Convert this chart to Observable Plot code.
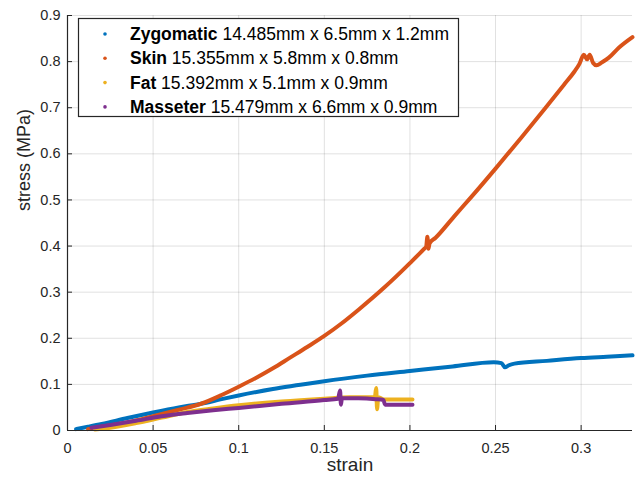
<!DOCTYPE html>
<html><head><meta charset="utf-8">
<script src="https://cdn.jsdelivr.net/npm/d3@7"></script>
<script src="https://cdn.jsdelivr.net/npm/@observablehq/plot@0.6"></script>
<style>body{margin:0;background:#fff} #chart{width:636px;height:483px}</style>
</head><body><div id="chart"></div>
<script>
const seriesNames = ["Zygomatic", "Skin", "Fat", "Masseter"];
const seriesDims = ["14.485mm x 6.5mm x 1.2mm", "15.355mm x 5.8mm x 0.8mm", "15.392mm x 5.1mm x 0.9mm", "15.479mm x 6.6mm x 0.9mm"];
const seriesColors = ["#0072BD", "#D95319", "#EDB120", "#7E2F8E"];

const zygStrain = [0.005, 0.012, 0.02, 0.035, 0.05, 0.065, 0.078, 0.09, 0.1, 0.12, 0.136, 0.15, 0.175, 0.2, 0.225, 0.249, 0.2535, 0.2555, 0.2575, 0.261, 0.28, 0.3, 0.315, 0.33];
const zygStress = [0.003, 0.008, 0.014, 0.027, 0.039, 0.05, 0.058, 0.068, 0.076, 0.09, 0.099, 0.107, 0.119, 0.129, 0.139, 0.148, 0.146, 0.137, 0.141, 0.145, 0.151, 0.157, 0.16, 0.163];

const skinStrain = [0.012, 0.02, 0.03, 0.04, 0.05, 0.065, 0.078, 0.09, 0.1, 0.11, 0.12, 0.13, 0.14, 0.15, 0.16, 0.17, 0.185, 0.2, 0.208, 0.2095, 0.2102, 0.2108, 0.2115, 0.215, 0.226, 0.2355, 0.25, 0.265, 0.279, 0.29, 0.296, 0.299, 0.3015, 0.3035, 0.305, 0.307, 0.309, 0.312, 0.316, 0.322, 0.33];
const skinStress = [0.003, 0.008, 0.014, 0.022, 0.031, 0.045, 0.058, 0.077, 0.095, 0.114, 0.135, 0.158, 0.181, 0.205, 0.232, 0.262, 0.31, 0.363, 0.393, 0.399, 0.42, 0.394, 0.406, 0.418, 0.465, 0.505, 0.568, 0.635, 0.699, 0.75, 0.778, 0.795, 0.815, 0.805, 0.815, 0.797, 0.792, 0.798, 0.808, 0.83, 0.853];

const fatStrain = [0.016, 0.025, 0.04, 0.055, 0.07, 0.085, 0.1, 0.125, 0.15, 0.165, 0.1795, 0.1803, 0.1808, 0.1815, 0.1835, 0.185, 0.19, 0.2015];
const fatStress = [0.002, 0.006, 0.016, 0.028, 0.04, 0.048, 0.055, 0.063, 0.069, 0.072, 0.072, 0.092, 0.046, 0.072, 0.069, 0.067, 0.067, 0.067];

const masStrain = [0.014, 0.025, 0.04, 0.055, 0.07, 0.085, 0.1, 0.125, 0.15, 0.158, 0.1592, 0.1597, 0.1603, 0.17, 0.18, 0.1845, 0.1855, 0.19, 0.2015];
const masStress = [0.006, 0.012, 0.021, 0.031, 0.038, 0.044, 0.049, 0.058, 0.066, 0.069, 0.087, 0.056, 0.07, 0.07, 0.068, 0.066, 0.056, 0.056, 0.056];

const xTicks = [0, 0.05, 0.1, 0.15, 0.2, 0.25, 0.3];
const yTicks = [0, 0.1, 0.2, 0.3, 0.4, 0.5, 0.6, 0.7, 0.8, 0.9];
const xLabel = "strain";
const yLabel = "stress (MPa)";

const seriesData = [[zygStrain, zygStress], [skinStrain, skinStress], [fatStrain, fatStress], [masStrain, masStress]];
const rows = [];
seriesData.forEach(([xs, ys], i) => xs.forEach((x, j) => rows.push({name: seriesNames[i], strain: x, stress: ys[j]})));

const W = 636, H = 483, mL = 67, mR = 4, mT = 15, mB = 53;
const font = "'Liberation Sans', Arial, Helvetica, sans-serif";
const ink = "#262626";

const chart = Plot.plot({
  width: W, height: H,
  marginLeft: mL, marginRight: mR, marginTop: mT, marginBottom: mB,
  style: {fontFamily: font, fontSize: "14px", color: ink, background: "#fff"},
  x: {domain: [0, 0.33]},
  y: {domain: [0, 0.9]},
  color: {domain: seriesNames, range: seriesColors},
  marks: [
    Plot.ruleX(xTicks.filter(d => d > 0), {stroke: "#000", strokeOpacity: 0.12}),
    Plot.ruleY(yTicks.filter(d => d > 0), {stroke: "#000", strokeOpacity: 0.12}),
    Plot.line(rows, {x: "strain", y: "stress", z: "name", stroke: "name", strokeWidth: 4, strokeLinejoin: "round", strokeLinecap: "round", curve: "monotone-x"}),
    Plot.ruleX([0], {stroke: ink, strokeWidth: 1.2}),
    Plot.ruleY([0], {stroke: ink, strokeWidth: 1.2}),
    Plot.tickX(xTicks, {x: d => d, stroke: ink, insetTop: H - mT - mB - 5}),
    Plot.tickY(yTicks, {y: d => d, stroke: ink, insetRight: W - mL - mR - 5}),
    Plot.axisX({ticks: xTicks, tickSize: 0, tickPadding: 12, tickFormat: d => String(d), label: null, fontSize: 14.5}),
    Plot.axisY({ticks: yTicks, tickSize: 0, tickPadding: 7, tickFormat: d => String(d), label: null, fontSize: 14.5}),
    Plot.text([xLabel], {text: d => d, frameAnchor: "bottom", dy: 40, fontSize: 19, fill: ink}),
    Plot.text([yLabel], {text: d => d, frameAnchor: "left", rotate: -90, dx: -43, dy: -12, fontSize: 18, fill: ink})
  ]
});
document.getElementById("chart").appendChild(chart);

// legend inside the axes, as in the original
const svg = d3.select(chart);
const lg = svg.append("g").attr("font-family", font).attr("font-size", 17.5).attr("text-anchor", "start");
lg.append("rect").attr("x", 78.5).attr("y", 18.5).attr("width", 380).attr("height", 98)
  .attr("fill", "#fff").attr("stroke", ink).attr("stroke-width", 1.2);
seriesNames.forEach((n, i) => {
  const cy = 34 + i * 24.3;
  lg.append("circle").attr("cx", 105).attr("cy", cy).attr("r", 1.8).attr("fill", seriesColors[i]);
  const t = lg.append("text").attr("x", 130).attr("y", cy + 6).attr("fill", "#000").attr("text-anchor", "start");
  t.append("tspan").attr("font-weight", "bold").text(n);
  t.append("tspan").text(" " + seriesDims[i]);
});
</script>
</body></html>
